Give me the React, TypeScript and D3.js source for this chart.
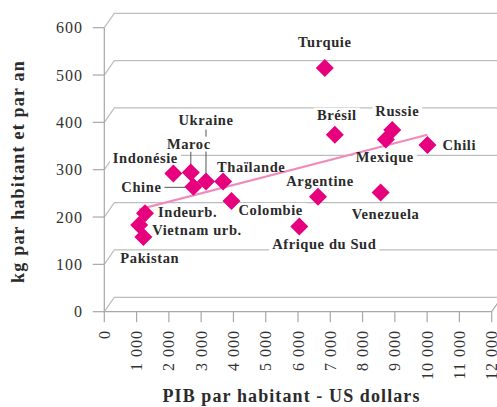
import React, { useEffect, useRef } from 'react'
import * as d3 from 'd3'

// PIB par habitant (US$) et consommation (kg par habitant et par an)
const COUNTRIES = ['Turquie', 'Brésil', 'Russie', 'Mexique', 'Chili', 'Venezuela', 'Argentine', 'Afrique du Sud',
  'Colombie', 'Thaïlande', 'Ukraine', 'Maroc', 'Indonésie', 'Chine', 'Indeurb.', 'Vietnam urb.', 'Pakistan']
const GDP = [6830, 7140, 8920, 8720, 10010, 8560, 6620, 6040, 3940, 3680, 3150, 2680, 2140, 2760, 1260, 1080, 1210]
const KG = [515, 374, 384, 364, 352, 252, 243, 180, 234, 275, 275, 294, 292, 264, 208, 183, 158]

const X_TICKS = d3.range(0, 12001, 1000)
const Y_TICKS = d3.range(0, 601, 100)

// label placement relative to each point: [dx, dy, anchor]
const LABEL_POS: [number, number, string][] = [
  [0, -21, 'middle'], [2, -15, 'middle'], [5, -13.5, 'middle'], [-1, 23, 'middle'], [15, 5, 'start'],
  [5, 27, 'middle'], [2, -11, 'middle'], [25, 22, 'middle'], [7, 14, 'start'], [-6, -10, 'start'],
  [0, -57, 'middle'], [-2, -24, 'middle'], [-28, -10, 'middle'], [-52, 5, 'middle'], [13, 4, 'start'],
  [13, 10, 'start'], [-23, 26, 'start']
]
const LEADERS: Record<string, number[]> = {
  'Ukraine': [0, -52, 0, -7],
  'Maroc': [0, -21, 0, -6],
  'Chine': [-30, 0.6, -8, 0.6]
}

const W = 497
const H = 407
const DEPTH_X = 10
const DEPTH_Y = -14.4
const FONT = 'Liberation Serif'

export default function App() {
  const ref = useRef<SVGSVGElement>(null)

  useEffect(() => {
    const svg = d3.select(ref.current)
    svg.selectAll('*').remove()

    const x = d3.scaleLinear().domain([0, 12000]).range([104.3, 491.7])
    const y = d3.scaleLinear().domain([0, 600]).range([311.7, 27.7])
    const fmt = (d: number) => d3.format(',')(d).replace(/,/g, ' ')

    const grid = svg.append('g').attr('fill', 'none')
    // back wall gridlines with the little 3d step
    Y_TICKS.forEach(t => {
      grid.append('path')
        .attr('d', `M${x(0)},${y(t)}L${x(0) + DEPTH_X},${y(t) + DEPTH_Y}H${W + 5}`)
        .attr('stroke', '#bdbdbd').attr('stroke-width', 1.2)
      grid.append('line')
        .attr('x1', x(0) - 11.6).attr('x2', x(0)).attr('y1', y(t)).attr('y2', y(t))
        .attr('stroke', '#a8a8a8').attr('stroke-width', 1.2)
    })
    grid.append('line')
      .attr('x1', x(0)).attr('x2', x(0)).attr('y1', y(600)).attr('y2', y(0))
      .attr('stroke', '#a8a8a8').attr('stroke-width', 1.2)
    grid.append('path')
      .attr('d', `M${x(0)},${y(0)}H${x(12000)}L${x(12000) + DEPTH_X},${y(0) + DEPTH_Y}`)
      .attr('stroke', '#a8a8a8').attr('stroke-width', 1.2)
    X_TICKS.forEach(t => {
      grid.append('line')
        .attr('x1', x(t)).attr('x2', x(t)).attr('y1', y(0)).attr('y2', y(0) + 10.5)
        .attr('stroke', '#a8a8a8').attr('stroke-width', 1.2)
    })

    // leader lines
    COUNTRIES.forEach((c, i) => {
      const l = LEADERS[c]
      if (!l) return
      const px = x(GDP[i]), py = y(KG[i])
      grid.append('line')
        .attr('x1', px + l[0]).attr('y1', py + l[1]).attr('x2', px + l[2]).attr('y2', py + l[3])
        .attr('stroke', '#555').attr('stroke-width', 1)
    })

    // tick labels
    svg.append('g').selectAll('text').data(Y_TICKS).join('text')
      .attr('x', 83).attr('y', d => y(d)).attr('dy', '0.35em')
      .attr('text-anchor', 'end')
      .attr('font-family', FONT).attr('font-size', 16).attr('letter-spacing', 1)
      .attr('fill', '#333').text(fmt)
    svg.append('g').selectAll('text').data(X_TICKS).join('text')
      .attr('transform', d => `translate(${x(d)},330) rotate(-90)`)
      .attr('dy', '0.35em').attr('text-anchor', 'end')
      .attr('font-family', FONT).attr('font-size', 16).attr('letter-spacing', 1)
      .attr('fill', '#333').text(fmt)

    // axis titles
    svg.append('text')
      .attr('transform', `translate(24,171.5) rotate(-90)`)
      .attr('text-anchor', 'middle')
      .attr('font-family', FONT).attr('font-size', 18).attr('font-weight', 'bold')
      .attr('letter-spacing', 1.2).attr('fill', '#2b2b2b')
      .text('kg par habitant et par an')
    svg.append('text')
      .attr('x', 291.5).attr('y', 402)
      .attr('text-anchor', 'middle')
      .attr('font-family', FONT).attr('font-size', 18).attr('font-weight', 'bold')
      .attr('letter-spacing', 1.1).attr('fill', '#2b2b2b')
      .text('PIB par habitant - US dollars')

    // labels (white boxes first so they cut the gridlines)
    const boxes = svg.append('g')
    const marks = svg.append('g')
    const labels = svg.append('g')
    const texts = COUNTRIES.map((c, i) => {
      const [dx, dy, anchor] = LABEL_POS[i]
      return labels.append('text')
        .attr('x', x(GDP[i]) + dx).attr('y', y(KG[i]) + dy)
        .attr('text-anchor', anchor)
        .attr('font-family', FONT).attr('font-size', 14.5).attr('font-weight', 'bold')
        .attr('letter-spacing', 0.6).attr('fill', '#2b2b2b')
        .text(c)
    })
    texts.forEach(t => {
      const b = (t.node() as SVGTextElement).getBBox()
      boxes.append('rect')
        .attr('x', b.x - 3).attr('y', b.y + 1).attr('width', b.width + 6).attr('height', b.height - 1)
        .attr('fill', '#fff')
    })

    // trend line (least squares)
    const mx = d3.mean(GDP) as number
    const my = d3.mean(KG) as number
    const sxy = d3.sum(GDP, (g, i) => (g - mx) * (KG[i] - my))
    const sxx = d3.sum(GDP, g => (g - mx) ** 2)
    const slope = sxy / sxx
    const [x0, x1] = d3.extent(GDP) as [number, number]
    const trend = [x0, x1].map(g => [g, my + slope * (g - mx)])
    marks.append('path')
      .attr('d', d3.line().x(d => x(d[0])).y(d => y(d[1]))(trend as [number, number][]))
      .attr('stroke', '#f08cbb').attr('stroke-width', 2.2).attr('fill', 'none')

    const diamond = d3.symbol().type(d3.symbolSquare).size(162)
    marks.selectAll('path.pt').data(GDP).join('path')
      .attr('class', 'pt')
      .attr('d', diamond())
      .attr('transform', (d, i) => `translate(${x(d)},${y(KG[i])}) rotate(45)`)
      .attr('fill', '#e6007e')
  }, [])

  return (
    <svg ref={ref} width={W} height={H}
      style={{ position: 'absolute', left: 0, top: 0, background: '#fff' }} />
  )
}
